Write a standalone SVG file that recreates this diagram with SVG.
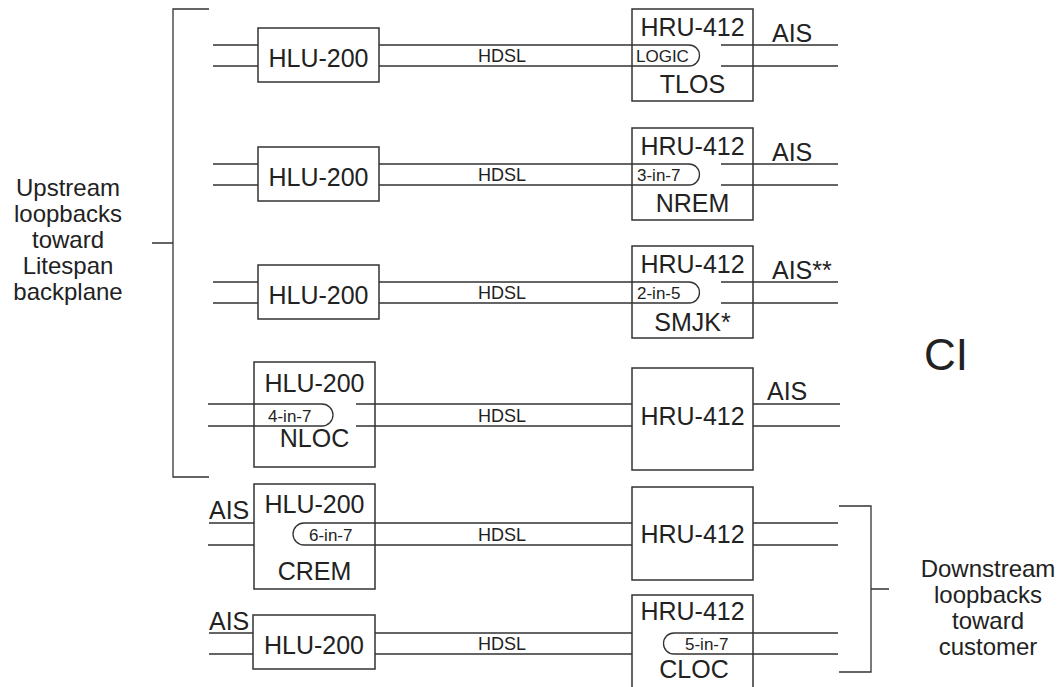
<svg xmlns="http://www.w3.org/2000/svg" width="1064" height="687" viewBox="0 0 1064 687">
<style>
.bg{fill:#fff}
.box{fill:none;stroke:#333;stroke-width:1.5}
.ln{fill:none;stroke:#333;stroke-width:1.3}
text{font-family:"Liberation Sans",Arial,sans-serif;fill:#222}
.big{font-size:25px}
.c{text-anchor:middle}
.hd{font-size:18px}
.sm{font-size:17px}
.side{font-size:24px;text-anchor:middle}
.ci{font-size:44px}
</style>
<rect class="bg" x="0" y="0" width="1064" height="687"/>

<g id="connectors">
  <!-- row 1 -->
  <path class="ln" d="M213,45H258M213,66H258"/>
  <path class="ln" d="M379,45H689A10.5,10.5 0 0 1 689,66H379"/>
  <path class="ln" d="M721,45H838M721,66H838"/>
  <!-- row 2 -->
  <path class="ln" d="M213,164H258M213,185H258"/>
  <path class="ln" d="M379,164H689A10.5,10.5 0 0 1 689,185H379"/>
  <path class="ln" d="M721,164H838M721,185H838"/>
  <!-- row 3 -->
  <path class="ln" d="M213,282H258M213,303H258"/>
  <path class="ln" d="M379,282H689A10.5,10.5 0 0 1 689,303H379"/>
  <path class="ln" d="M721,282H838M721,303H838"/>
  <!-- row 4 -->
  <path class="ln" d="M208,404H322A11,11 0 0 1 322,426H208"/>
  <path class="ln" d="M356,404H632M356,426H632"/>
  <path class="ln" d="M753,404H840M753,426H840"/>
  <!-- row 5 -->
  <path class="ln" d="M209,523H254M208,545H254"/>
  <path class="ln" d="M632,523H304A11,11 0 0 0 304,545H632"/>
  <path class="ln" d="M753,523H838M753,545H838"/>
  <!-- row 6 -->
  <path class="ln" d="M209,633H253M209,654H253"/>
  <path class="ln" d="M375,633H632M375,654H632"/>
  <path class="ln" d="M838,633H674A10.5,10.5 0 0 0 674,654H838"/>
  <!-- brackets -->
  <path class="ln" d="M209,9H173V477H209M152,243H173"/>
  <path class="ln" d="M839,506H871V672H839M871,589H889"/>
</g>

<g id="upstream-label">
  <text class="side" x="68" y="196">Upstream</text>
  <text class="side" x="68" y="222">loopbacks</text>
  <text class="side" x="68" y="248">toward</text>
  <text class="side" x="68" y="274">Litespan</text>
  <text class="side" x="68" y="300">backplane</text>
</g>
<g id="downstream-label">
  <text class="side" x="988" y="577">Downstream</text>
  <text class="side" x="988" y="603">loopbacks</text>
  <text class="side" x="988" y="629">toward</text>
  <text class="side" x="988" y="655">customer</text>
</g>
<g id="ci-label"><text class="ci" x="924" y="370">CI</text></g>

<!-- row 1 -->
<g id="hlu1"><rect class="box" x="258" y="28" width="121" height="54"/><text class="big c" x="318.5" y="67">HLU-200</text></g>
<g id="hdsl1"><text class="hd c" x="502" y="62">HDSL</text></g>
<g id="hru1"><rect class="box" x="632" y="9" width="121" height="92"/>
  <text class="big c" x="692.5" y="36">HRU-412</text>
  <text class="sm" x="636" y="62">LOGIC</text>
  <text class="big c" x="692.5" y="93">TLOS</text></g>
<g id="ais1"><text class="big" x="772" y="42">AIS</text></g>

<!-- row 2 -->
<g id="hlu2"><rect class="box" x="258" y="147" width="121" height="54"/><text class="big c" x="318.5" y="186">HLU-200</text></g>
<g id="hdsl2"><text class="hd c" x="502" y="181">HDSL</text></g>
<g id="hru2"><rect class="box" x="632" y="128" width="121" height="92"/>
  <text class="big c" x="692.5" y="155">HRU-412</text>
  <text class="sm" x="637" y="181">3-in-7</text>
  <text class="big c" x="692.5" y="212">NREM</text></g>
<g id="ais2"><text class="big" x="772" y="161">AIS</text></g>

<!-- row 3 -->
<g id="hlu3"><rect class="box" x="258" y="265" width="121" height="54"/><text class="big c" x="318.5" y="304">HLU-200</text></g>
<g id="hdsl3"><text class="hd c" x="502" y="299">HDSL</text></g>
<g id="hru3"><rect class="box" x="632" y="246" width="121" height="92"/>
  <text class="big c" x="692.5" y="273">HRU-412</text>
  <text class="sm" x="637" y="299">2-in-5</text>
  <text class="big c" x="692.5" y="331">SMJK*</text></g>
<g id="ais3"><text class="big" x="772" y="279">AIS**</text></g>

<!-- row 4 -->
<g id="hlu4"><rect class="box" x="254" y="362" width="121" height="105"/>
  <text class="big c" x="314.5" y="392">HLU-200</text>
  <text class="sm" x="268" y="422">4-in-7</text>
  <text class="big c" x="314.5" y="447">NLOC</text></g>
<g id="hdsl4"><text class="hd c" x="502" y="422">HDSL</text></g>
<g id="hru4"><rect class="box" x="632" y="368" width="121" height="102"/><text class="big c" x="692.5" y="425">HRU-412</text></g>
<g id="ais4"><text class="big" x="767" y="400">AIS</text></g>

<!-- row 5 -->
<g id="ais5"><text class="big" x="209" y="519">AIS</text></g>
<g id="hlu5"><rect class="box" x="254" y="484" width="121" height="105"/>
  <text class="big c" x="314.5" y="513">HLU-200</text>
  <text class="sm" x="309" y="541">6-in-7</text>
  <text class="big c" x="314.5" y="580">CREM</text></g>
<g id="hdsl5"><text class="hd c" x="502" y="541">HDSL</text></g>
<g id="hru5"><rect class="box" x="632" y="487" width="121" height="93"/><text class="big c" x="692.5" y="543">HRU-412</text></g>

<!-- row 6 -->
<g id="ais6"><text class="big" x="209" y="630">AIS</text></g>
<g id="hlu6"><rect class="box" x="253" y="615" width="122" height="54"/><text class="big c" x="314" y="654">HLU-200</text></g>
<g id="hdsl6"><text class="hd c" x="502" y="650">HDSL</text></g>
<g id="hru6"><rect class="box" x="632" y="595" width="121" height="100"/>
  <text class="big c" x="692.5" y="620">HRU-412</text>
  <text class="sm" x="685" y="650">5-in-7</text>
  <text class="big c" x="694" y="678">CLOC</text></g>
</svg>
